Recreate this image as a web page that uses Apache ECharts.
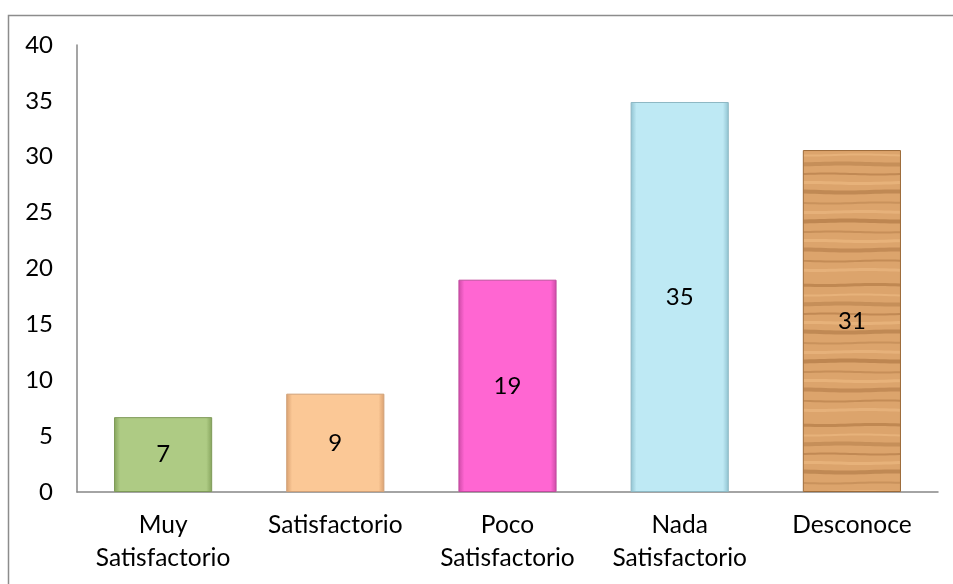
<!DOCTYPE html>
<html>
<head>
<meta charset="utf-8">
<script src="https://cdn.jsdelivr.net/npm/echarts@6/dist/echarts.min.js"></script>
<style>
html,body{margin:0;padding:0;background:#fff;}
#chart{width:953px;height:584px;}
</style>
</head>
<body>
<div id="chart"></div>
<script>
const categories = ['Muy\nSatisfactorio', 'Satisfactorio', 'Poco\nSatisfactorio', 'Nada\nSatisfactorio', 'Desconoce'];
const values = [6.7, 8.8, 19.0, 34.9, 30.6];
const yTicks = [0, 5, 10, 15, 20, 25, 30, 35, 40];

const FONT = 'Lato, "Liberation Sans", sans-serif';

function bevel(base, edge) {
  return {
    type: 'linear', x: 0, y: 0, x2: 1, y2: 0,
    colorStops: [
      {offset: 0, color: edge},
      {offset: 0.06, color: base},
      {offset: 0.94, color: base},
      {offset: 1, color: edge}
    ]
  };
}

// wood texture pattern (soft horizontal grain)
const wood = document.createElement('canvas');
wood.width = 100; wood.height = 140;
(function () {
  const c = wood.getContext('2d');
  c.fillStyle = '#DCA46C';
  c.fillRect(0, 0, 100, 140);
  const grains = [
    [5, 3, 'rgba(150,95,45,0.40)'], [15, 2, 'rgba(240,190,135,0.55)'],
    [24, 4, 'rgba(150,95,45,0.30)'], [34, 2, 'rgba(160,105,55,0.45)'],
    [43, 3, 'rgba(240,190,135,0.55)'], [52, 4, 'rgba(140,88,40,0.35)'],
    [63, 2, 'rgba(160,105,55,0.30)'], [72, 3, 'rgba(240,190,135,0.50)'],
    [81, 4, 'rgba(145,90,42,0.40)'], [92, 2, 'rgba(160,105,55,0.35)'],
    [101, 3, 'rgba(240,190,135,0.55)'], [110, 4, 'rgba(150,95,45,0.35)'],
    [121, 2, 'rgba(160,105,55,0.40)'], [130, 3, 'rgba(240,190,135,0.50)']
  ];
  grains.forEach((g, k) => {
    c.strokeStyle = g[2];
    c.lineWidth = g[1];
    c.beginPath();
    for (let x = 0; x <= 100; x += 5) {
      const y = g[0] + 0.5 * Math.sin((x / 100) * 2 * Math.PI + k);
      if (x === 0) c.moveTo(x, y); else c.lineTo(x, y);
    }
    c.stroke();
  });
})();

const colors = [
  bevel('#AECB84', '#85A35C'),
  bevel('#FBC896', '#D9A070'),
  bevel('#FF66D2', '#CC4AA6'),
  bevel('#BEE9F4', '#8FC2D0'),
  {image: wood, repeat: 'repeat'}
];
const borders = ['#7E9A58', '#D0A077', '#C04C9E', '#8DB8C4', '#9C6A38'];

const chart = echarts.init(document.getElementById('chart'));
chart.setOption({
  animation: false,
  backgroundColor: '#fff',
  graphic: [{
    type: 'rect',
    shape: {x: 8.5, y: 15.5, width: 1000, height: 700},
    style: {fill: 'none', stroke: '#8C8C8C', lineWidth: 1.5},
    silent: true
  }],
  grid: {left: 77, right: 15, top: 45, bottom: 92, containLabel: false},
  xAxis: {
    type: 'category',
    data: categories,
    axisLine: {lineStyle: {color: '#878787', width: 1.5}},
    axisTick: {show: false},
    axisLabel: {
      interval: 0,
      color: '#000',
      fontFamily: FONT,
      fontSize: 24.5,
      lineHeight: 33,
      margin: 17
    }
  },
  yAxis: {
    type: 'value',
    min: 0, max: 40, interval: 5,
    splitLine: {show: false},
    axisLine: {show: true, lineStyle: {color: '#878787', width: 1.5}},
    axisTick: {show: false},
    axisLabel: {
      color: '#000',
      fontFamily: FONT,
      fontSize: 24,
      margin: 24,
      formatter: v => yTicks.indexOf(v) >= 0 ? String(v) : ''
    }
  },
  series: [{
    type: 'bar',
    barWidth: '57%',
    data: values.map((v, i) => ({
      value: v,
      itemStyle: {color: colors[i], borderColor: borders[i], borderWidth: 1}
    })),
    label: {
      show: true,
      position: 'inside',
      color: '#000',
      fontFamily: FONT,
      fontSize: 24,
      formatter: p => String(Math.round(p.value))
    }
  }]
});
</script>
</body>
</html>
